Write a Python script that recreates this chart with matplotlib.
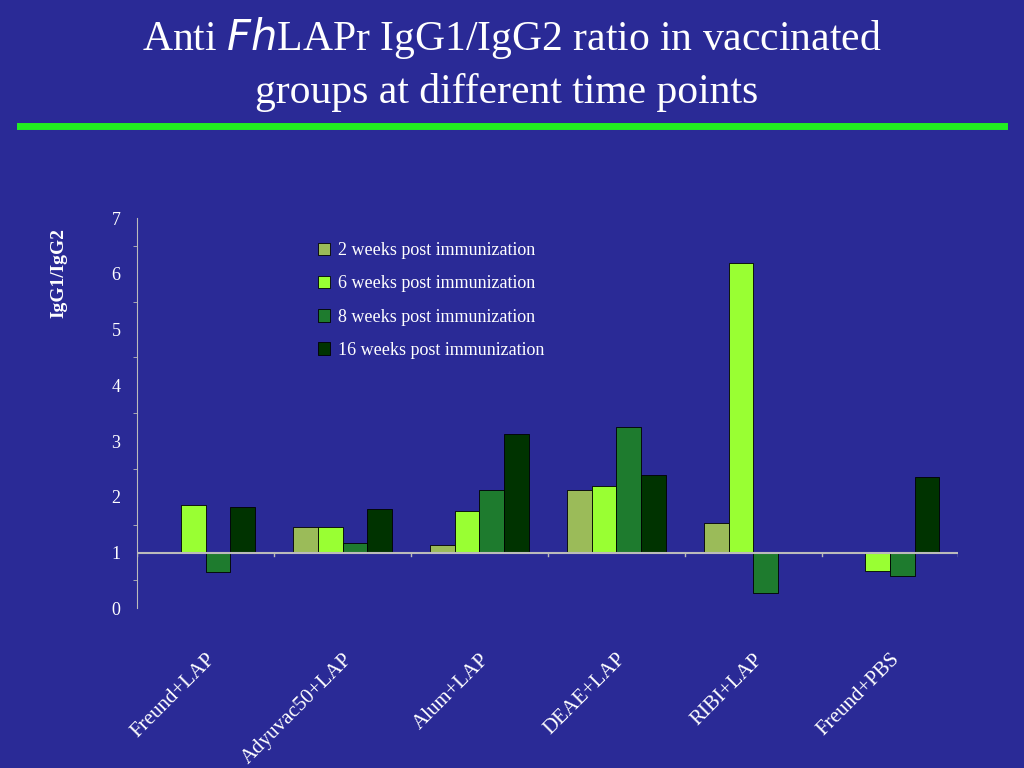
import matplotlib
matplotlib.use("Agg")
import matplotlib.pyplot as plt
import numpy as np

categories = ["Freund+LAP", "Adyuvac50+LAP", "Alum+LAP", "DEAE+LAP", "RIBI+LAP", "Freund+PBS"]
series_names = ["2 weeks post immunization", "6 weeks post immunization",
                "8 weeks post immunization", "16 weeks post immunization"]
wk2 = [1.0, 1.45, 1.13, 2.12, 1.53, 1.0]
wk6 = [1.85, 1.45, 1.74, 2.19, 6.19, 0.66]
wk8 = [0.65, 1.17, 2.12, 3.25, 0.27, 0.57]
wk16 = [1.81, 1.78, 3.12, 2.39, 1.0, 2.35]
colors = ["#9BBB59", "#99FF33", "#1E7B2E", "#003300"]
bg = "#2A2A96"

fig = plt.figure(figsize=(10.24, 7.68), dpi=100, facecolor=bg)
fig.text(0.5, 0.95, "Anti $\\mathit{Fh}$LAPr IgG1/IgG2 ratio in vaccinated", ha="center", va="center",
         color="white", fontsize=30, family="Liberation Serif")
fig.text(0.495, 0.88, "groups at different time points", ha="center", va="center",
         color="white", fontsize=30, family="Liberation Serif")
fig.add_artist(plt.Line2D([0.02, 0.98], [0.836, 0.836], color="#22EE22", lw=5))

ax = fig.add_axes([0.134, 0.208, 0.802, 0.508], facecolor=bg)
x = np.arange(len(categories))
w = 0.18
for i, s in enumerate([wk2, wk6, wk8, wk16]):
    vals = np.array(s)
    ax.bar(x + (i - 1.5) * w, vals - 1, bottom=1, width=w, color=colors[i],
           edgecolor="black", lw=0.6, label=series_names[i])
ax.set_ylim(0, 7)
ax.set_xlim(-0.5, len(categories) - 0.5)
ax.axhline(1, color="#BBBBBB", lw=1.5)
for sp in ["top", "right", "bottom"]:
    ax.spines[sp].set_visible(False)
ax.spines["left"].set_color("#BBBBBB")
ax.set_yticks(range(8))
ax.set_yticks(np.arange(0, 7, 0.5), minor=True)
ax.tick_params(axis="y", colors="white", labelsize=13, direction="in", length=0, pad=12)
ax.tick_params(axis="y", which="minor", color="#BBBBBB", length=3, direction="out")
for lab in ax.get_yticklabels():
    lab.set_family("Liberation Serif")
ax.set_xticks(x)
ax.set_xticklabels(categories, rotation=45, ha="right", rotation_mode="anchor",
                   color="white", fontsize=15, family="Liberation Serif")
ax.tick_params(axis="x", length=0, pad=30)
for xv in np.arange(-0.5, len(categories), 1):
    ax.plot([xv, xv], [1, 0.93], color="#BBBBBB", lw=1)
ax.set_ylabel("IgG1/IgG2", color="white", fontsize=14, fontweight="bold",
              family="Liberation Serif")
ax.yaxis.set_label_coords(-0.085, 0.86)
leg = ax.legend(loc="upper left", bbox_to_anchor=(0.2, 0.98), frameon=False,
                prop={"family": "Liberation Serif", "size": 13}, labelcolor="white",
                handlelength=0.7, handleheight=0.7, labelspacing=0.9, handletextpad=0.4)
fig.savefig("out.png", dpi=100, facecolor=bg)
